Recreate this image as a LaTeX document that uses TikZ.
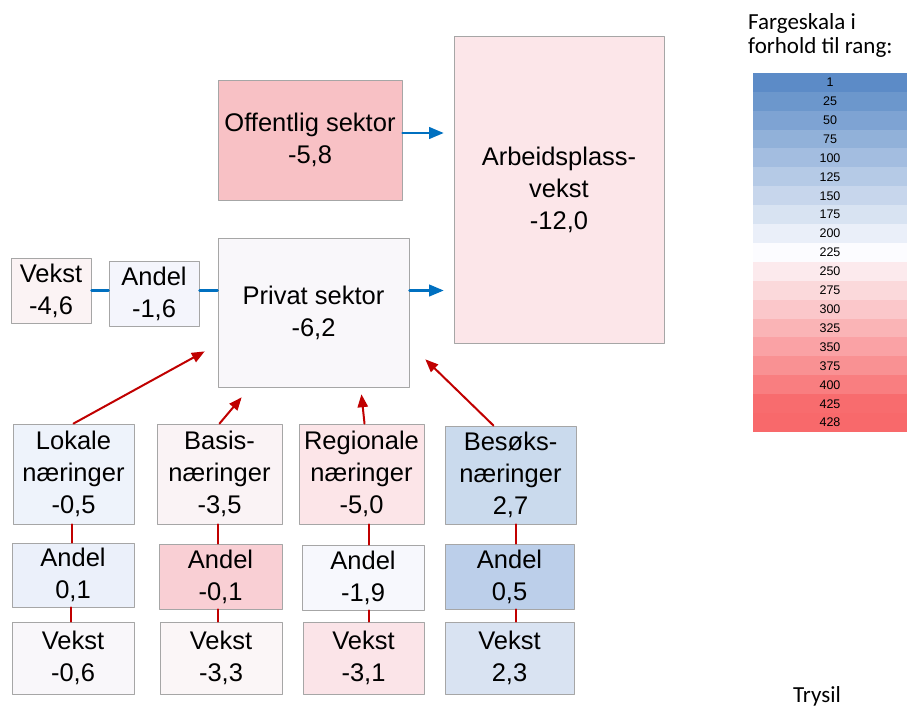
\documentclass[tikz,border=0pt]{standalone}
\usepackage{fontspec}
\setmainfont{Liberation Sans}
\newfontfamily\calfont{Carlito}
\usepackage{tikz}
\usetikzlibrary{arrows}

\definecolor{boxgray}{HTML}{A6A6A6}
\definecolor{linkred}{HTML}{C00000}
\definecolor{linkblue}{HTML}{0070C0}
\definecolor{sclow}{HTML}{5A8AC6}
\definecolor{scmid}{HTML}{FCFCFF}
\definecolor{schigh}{HTML}{F8696B}
\definecolor{cOff}{HTML}{F8C1C5}
\definecolor{cArb}{HTML}{FCE6E9}
\definecolor{cPriv}{HTML}{F9F7FA}
\definecolor{cVekst}{HTML}{FBF3F4}
\definecolor{cAndel}{HTML}{F4F5FC}
\definecolor{cLok}{HTML}{EEF3FB}
\definecolor{cBas}{HTML}{FAF3F5}
\definecolor{cReg}{HTML}{FCE5E8}
\definecolor{cBes}{HTML}{CADAED}
\definecolor{cLokA}{HTML}{EBF0FA}
\definecolor{cBasA}{HTML}{F9CFD4}
\definecolor{cRegA}{HTML}{F7F8FD}
\definecolor{cBesA}{HTML}{BCCFEA}
\definecolor{cLokV}{HTML}{F9F7FA}
\definecolor{cBasV}{HTML}{FBF6F7}
\definecolor{cRegV}{HTML}{FBE4E8}
\definecolor{cBesV}{HTML}{D9E3F2}

\begin{document}
\begin{tikzpicture}[line cap=round,line join=round,>=triangle 45,x=1pt,y=-1pt,
  box/.style={draw=boxgray,line width=0.9pt,inner sep=0pt,align=center,
    font=\fontsize{25.5}{32}\selectfont},
  scalerow/.style={inner sep=0pt,minimum width=154pt,minimum height=19.2pt,
    font=\fontsize{12.5}{14}\selectfont},
  redlink/.style={draw=linkred,line width=2pt},
  bluelink/.style={draw=linkblue,line width=2.4pt}]
\useasboundingbox (0,0) rectangle (907,707);
% top: sectors and total
\node[box,fill=cOff,minimum width=184pt,minimum height=120pt] (off) at (310,140) {Offentlig sektor\\-5,8};
\node[box,fill=cArb,minimum width=210pt,minimum height=307pt] (arb) at (559,189.5) {Arbeidsplass-\\vekst\\-12,0};
\node[box,fill=cPriv,minimum width=191pt,minimum height=149pt] (priv) at (313.5,312.5) {Privat sektor\\-6,2};
\node[box,fill=cVekst,minimum width=80pt,minimum height=65pt] (vekst) at (51,290.5) {Vekst\\-4,6};
\node[box,fill=cAndel,minimum width=90pt,minimum height=65pt] (andel) at (154,293.5) {Andel\\-1,6};
% industries
\node[box,fill=cLok,minimum width=121pt,minimum height=100pt] (lok) at (73.5,474) {Lokale\\næringer\\-0,5};
\node[box,fill=cBas,minimum width=125pt,minimum height=100pt] (bas) at (219.5,474) {Basis-\\næringer\\-3,5};
\node[box,fill=cReg,minimum width=125pt,minimum height=100pt] (reg) at (361.5,474) {Regionale\\næringer\\-5,0};
\node[box,fill=cBes,minimum width=131pt,minimum height=98pt] (bes) at (510.5,475) {Besøks-\\næringer\\2,7};
\node[box,fill=cLokA,minimum width=122pt,minimum height=64pt] (lokA) at (73,575) {Andel\\0,1};
\node[box,fill=cBasA,minimum width=123pt,minimum height=65pt] (basA) at (220.5,576.5) {Andel\\-0,1};
\node[box,fill=cRegA,minimum width=122pt,minimum height=65pt] (regA) at (363,577.5) {Andel\\-1,9};
\node[box,fill=cBesA,minimum width=129pt,minimum height=65pt] (besA) at (509.5,576.5) {Andel\\0,5};
\node[box,fill=cLokV,minimum width=122pt,minimum height=72pt] (lokV) at (73,658) {Vekst\\-0,6};
\node[box,fill=cBasV,minimum width=122pt,minimum height=72pt] (basV) at (221,658) {Vekst\\-3,3};
\node[box,fill=cRegV,minimum width=121pt,minimum height=72pt] (regV) at (363.5,658) {Vekst\\-3,1};
\node[box,fill=cBesV,minimum width=129pt,minimum height=72pt] (besV) at (509.5,658) {Vekst\\2,3};
% blue links
\draw[bluelink] (vekst.east) -- (vekst.east -| andel.west);
\draw[bluelink] (vekst.east -| andel.east) -- (vekst.east -| priv.west);
\draw[bluelink,->] (vekst.east -| priv.east) -- ([xshift=-10pt]vekst.east -| arb.west);
\draw[bluelink,->] ([yshift=7pt]off.east) -- ([yshift=7pt,xshift=-10pt]off.east -| arb.west);
% red links
\draw[redlink,->] (lok.north) -- ([xshift=-13pt,yshift=36pt]priv.south west);
\draw[redlink,->] (bas.north) -- ([xshift=24pt,yshift=-10pt]priv.south west);
\draw[redlink,->] ([xshift=3pt]reg.north) -- ([xshift=-48pt,yshift=-7pt]priv.south east);
\draw[redlink,->] ([xshift=-17pt]bes.north) -- ([xshift=16pt,yshift=28pt]priv.south east);
\draw[redlink] ([xshift=-2pt]lok.south) -- ([xshift=-2pt]lok.south |- lokA.north);
\draw[redlink] ([xshift=-2pt]lokA.south) -- ([xshift=-2pt]lokA.south |- lokV.north);
\draw[redlink] ([xshift=-1.5pt]bas.south) -- ([xshift=-1.5pt]bas.south |- basA.north);
\draw[redlink] ([xshift=-2.5pt]basA.south) -- ([xshift=-2.5pt]basA.south |- basV.north);
\draw[redlink] ([xshift=7.5pt]reg.south) -- ([xshift=7.5pt]reg.south |- regA.north);
\draw[redlink] ([xshift=6pt]regA.south) -- ([xshift=6pt]regA.south |- regV.north);
\draw[redlink] ([xshift=5.5pt]bes.south) -- ([xshift=5.5pt]bes.south |- besA.north);
\draw[redlink] ([xshift=6.5pt]besA.south) -- ([xshift=6.5pt]besA.south |- besV.north);
% colour scale
\node[anchor=base west,inner sep=0pt,font=\calfont\fontsize{23}{24}\selectfont] (scaletitle) at (748,29) {Fargeskala i};
\node[anchor=base west,inner sep=0pt,font=\calfont\fontsize{23}{24}\selectfont] (scaletitleb) at (748,53) {forhold til rang:};
\foreach \v [count=\i from 0] in {1,25,50,75,100,125,150,175,200,225,250,275,300,325,350,375,400,425,428}{
  \ifnum\v<226
    \pgfmathtruncatemacro\p{(225-\v)/2.24}\colorlet{rowcol}{sclow!\p!scmid}
  \else
    \pgfmathtruncatemacro\p{(\v-225)/2.03}\colorlet{rowcol}{schigh!\p!scmid}
  \fi
  \node[scalerow,fill=rowcol] (sc\i) at (830,{82.45+18.9*\i}) {\v};
}
\node[anchor=base,inner sep=0pt,font=\calfont\fontsize{23}{24}\selectfont] (place) at (817,702) {Trysil};
\end{tikzpicture}
\end{document}
